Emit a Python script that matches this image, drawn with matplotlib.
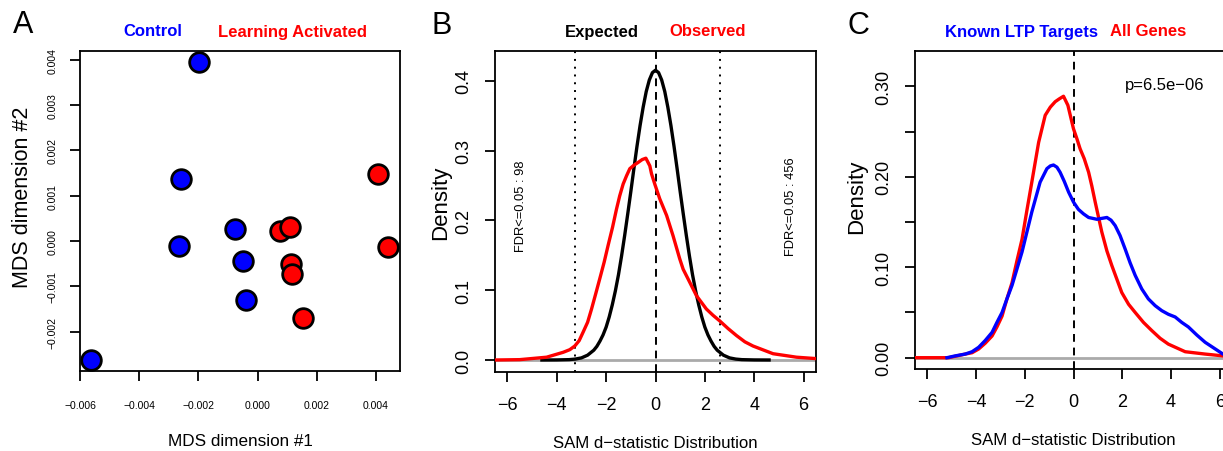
import matplotlib
matplotlib.use("Agg")
import matplotlib.pyplot as plt

plt.rcParams['font.family'] = ['Liberation Sans', 'DejaVu Sans']

# panel A: MDS coordinates
ctrl_x = [-0.00197, -0.00259, -0.00267, -0.00077, -0.00051, -0.00040, -0.00564]
ctrl_y = [0.00395, 0.00137, -0.00011, 0.00027, -0.00044, -0.00130, -0.00262]
learn_x = [0.00406, 0.00442, 0.00075, 0.00111, 0.00112, 0.00116, 0.00154]
learn_y = [0.00147, -0.00013, 0.00022, 0.00030, -0.00050, -0.00074, -0.00169]

# panel B: expected vs observed SAM d-statistic density
exp_x = [-4.6, -4.0, -3.5, -3.25, -3.0, -2.75, -2.5, -2.375, -2.25, -2.125, -2.0,
         -1.875, -1.75, -1.625, -1.5, -1.375, -1.25, -1.125, -1.0, -0.875, -0.75,
         -0.625, -0.5, -0.375, -0.25, -0.125, 0.0, 0.125, 0.25, 0.375, 0.5, 0.625,
         0.75, 0.875, 1.0, 1.125, 1.25, 1.375, 1.5, 1.625, 1.75, 1.875, 2.0, 2.125,
         2.25, 2.375, 2.5, 2.75, 3.0, 3.25, 3.5, 4.0, 4.6]
exp_y = [0.0, 0.0001, 0.0005, 0.0013, 0.003, 0.0069, 0.014, 0.0195, 0.027, 0.0358,
         0.047, 0.0616, 0.079, 0.099, 0.122, 0.1488, 0.178, 0.209, 0.241, 0.274, 0.306,
         0.3357, 0.362, 0.3845, 0.401, 0.4115, 0.415, 0.4115, 0.401, 0.3845, 0.362,
         0.3357, 0.306, 0.274, 0.241, 0.209, 0.178, 0.1488, 0.122, 0.099, 0.079,
         0.0616, 0.047, 0.0358, 0.027, 0.0195, 0.014, 0.0069, 0.003, 0.0013, 0.0005,
         0.0001, 0.0]
obs_x = [-6.5, -5.5, -4.41, -3.74, -3.47, -3.27, -3.09, -2.93, -2.75, -2.59, -2.42,
         -2.26, -2.08, -1.92, -1.74, -1.58, -1.45, -1.31, -1.17, -1.04, -0.87, -0.70,
         -0.54, -0.39, -0.23, -0.16, -0.03, 0.17, 0.31, 0.45, 0.71, 0.98, 1.12, 1.32,
         1.66, 2.06, 2.33, 2.60, 2.94, 3.28, 3.62, 3.95, 4.76, 5.71, 6.5]
obs_y = [0.0, 0.0005, 0.004, 0.011, 0.0148, 0.020, 0.0278, 0.040, 0.054, 0.073, 0.095,
         0.116, 0.140, 0.164, 0.190, 0.216, 0.235, 0.252, 0.264, 0.274, 0.279, 0.283,
         0.287, 0.289, 0.278, 0.2665, 0.252, 0.231, 0.219, 0.207, 0.178, 0.145, 0.130,
         0.116, 0.092, 0.073, 0.064, 0.056, 0.045, 0.035, 0.026, 0.020, 0.009, 0.004,
         0.002]
fdr_lo, fdr_hi = -3.24, 2.63
fdr_lo_label = "FDR<=0.05 : 98"
fdr_hi_label = "FDR<=0.05 : 456"

# panel C: known LTP targets vs all genes
all_x = [-6.49, -5.12, -4.44, -4.16, -3.89, -3.62, -3.34, -3.14, -2.93, -2.73, -2.52,
         -2.32, -2.11, -1.91, -1.71, -1.43, -1.16, -0.95, -0.75, -0.59, -0.41, -0.23,
         0.0, 0.14, 0.27, 0.44, 0.62, 0.75, 0.89, 1.16, 1.37, 1.57, 1.98, 2.26, 2.53,
         2.87, 3.21, 3.55, 3.89, 4.58, 5.40, 6.13, 6.5]
all_y = [0.0, 0.0, 0.004, 0.0055, 0.0096, 0.016, 0.024, 0.034, 0.046, 0.065, 0.083,
         0.107, 0.131, 0.163, 0.194, 0.238, 0.268, 0.277, 0.283, 0.286, 0.289, 0.279,
         0.253, 0.242, 0.231, 0.220, 0.205, 0.190, 0.172, 0.139, 0.118, 0.102, 0.072,
         0.059, 0.050, 0.039, 0.030, 0.0215, 0.015, 0.0066, 0.004, 0.002, 0.002]
ltp_x = [-5.19, -4.85, -4.44, -4.16, -3.89, -3.62, -3.34, -3.14, -2.93, -2.73, -2.52,
         -2.32, -2.11, -1.91, -1.71, -1.37, -1.09, -0.95, -0.82, -0.68, -0.55, -0.38,
         -0.20, 0.0, 0.20, 0.41, 0.62, 0.96, 1.16, 1.37, 1.54, 1.71, 1.91, 2.12, 2.32,
         2.53, 2.80, 3.07, 3.35, 3.62, 3.89, 4.17, 4.44, 4.71, 5.06, 5.40, 6.13, 6.5]
ltp_y = [0.0, 0.002, 0.004, 0.0066, 0.0115, 0.019, 0.028, 0.039, 0.050, 0.065, 0.080,
         0.098, 0.117, 0.139, 0.161, 0.194, 0.209, 0.212, 0.213, 0.2106, 0.205, 0.195,
         0.183, 0.172, 0.164, 0.159, 0.155, 0.153, 0.154, 0.155, 0.152, 0.146, 0.135,
         0.120, 0.105, 0.091, 0.076, 0.065, 0.0575, 0.052, 0.048, 0.045, 0.039, 0.034,
         0.025, 0.017, 0.004, 0.002]
pval_text = "p=6.5e\u221206"

W, H = 1223, 452
fig = plt.figure(figsize=(W / 100, H / 100), dpi=100)


def box(left, top, right, bottom):
    return [left / W, 1 - bottom / H, (right - left) / W, (bottom - top) / H]


def r_style(ax, size, xpad, ypad):
    for s in ax.spines.values():
        s.set_linewidth(1.3)
    ax.tick_params(direction='out', length=7.2, width=1.3, labelsize=size)
    ax.tick_params(axis='x', pad=xpad)
    ax.tick_params(axis='y', pad=ypad)
    for lab in ax.get_yticklabels():
        lab.set_rotation(90)
        lab.set_va('center')


def ftext(x, y, s, **kw):
    fig.text(x / W, 1 - y / H, s, ha='center', va='center', **kw)


# ---- A ----
axA = fig.add_axes(box(80, 52, 400, 372))
axA.scatter(ctrl_x, ctrl_y, s=200, c='#0000ff', edgecolors='black', linewidths=2, zorder=3)
axA.scatter(learn_x, learn_y, s=200, c='#ff0000', edgecolors='black', linewidths=2, zorder=3)
axA.set_xlim(-0.006, 0.00481)
axA.set_ylim(-0.00287, 0.00419)
axA.set_xticks([-0.006, -0.004, -0.002, 0.0, 0.002, 0.004])
axA.set_yticks([-0.002, -0.001, 0.0, 0.001, 0.002, 0.003, 0.004])
axA.set_xticklabels(['\u22120.006', '\u22120.004', '\u22120.002', '0.000', '0.002', '0.004'])
axA.set_yticklabels(['\u22120.002', '\u22120.001', '0.000', '0.001', '0.002', '0.003', '0.004'])
r_style(axA, 7.5, 14, 9)
ftext(240, 442, "MDS dimension #1", fontsize=12.3)
ftext(22, 197, "MDS dimension #2", fontsize=15.5, rotation=90)
ftext(23, 25, "A", fontsize=22)
ftext(153, 32, "Control", fontsize=12, fontweight='bold', color='#0000ff')
ftext(293, 32, "Learning Activated", fontsize=12, fontweight='bold', color='#ff0000')

# ---- B ----
axB = fig.add_axes(box(495, 52, 816, 373))
axB.axhline(0, color='#aaaaaa', lw=2, zorder=1)
axB.plot(exp_x, exp_y, color='black', lw=2.4, zorder=3)
axB.plot(obs_x, obs_y, color='#ff0000', lw=2.4, zorder=4)
axB.axvline(0, color='black', lw=1.4, dashes=(4, 3), zorder=2)
axB.axvline(fdr_lo, color='black', lw=1.4, linestyle=(0, (1, 3)), zorder=2)
axB.axvline(fdr_hi, color='black', lw=1.4, linestyle=(0, (1, 3)), zorder=2)
axB.text(-5.45, 0.221, fdr_lo_label, rotation=90, ha='center', va='center', fontsize=9.3)
axB.text(5.5, 0.221, fdr_hi_label, rotation=90, ha='center', va='center', fontsize=9.3)
axB.set_xlim(-6.5, 6.5)
axB.set_ylim(-0.0172, 0.4425)
axB.set_xticks([-6, -4, -2, 0, 2, 4, 6])
axB.set_yticks([0.0, 0.1, 0.2, 0.3, 0.4])
axB.set_yticklabels(['0.0', '0.1', '0.2', '0.3', '0.4'])
r_style(axB, 13, 10, 9)
ftext(655.7, 444, "SAM d\u2212statistic Distribution", fontsize=12.1)
ftext(441, 203, "Density", fontsize=16, rotation=90)
ftext(442, 26, "B", fontsize=22)
ftext(601.7, 32, "Expected", fontsize=12, fontweight='bold', color='black')
ftext(707.7, 32, "Observed", fontsize=12, fontweight='bold', color='#ff0000')

# ---- C ----
axC = fig.add_axes(box(915, 52.3, 1232, 370))
axC.axhline(0, color='#aaaaaa', lw=2, zorder=1)
axC.plot(all_x, all_y, color='#ff0000', lw=2.4, zorder=3)
axC.plot(ltp_x, ltp_y, color='#0000ff', lw=2.4, zorder=4)
axC.axvline(0, color='black', lw=1.4, dashes=(4, 3), zorder=2)
axC.text(3.75, 0.302, pval_text, ha='center', va='center', fontsize=12)
axC.set_xlim(-6.5, 6.5)
axC.set_ylim(-0.0125, 0.3387)
axC.set_xticks([-6, -4, -2, 0, 2, 4, 6])
axC.set_yticks([0.0, 0.05, 0.10, 0.15, 0.20, 0.25, 0.30])
axC.set_yticklabels(['0.00', '', '0.10', '', '0.20', '', '0.30'])
r_style(axC, 13, 10, 9)
ftext(1073, 441, "SAM d\u2212statistic Distribution", fontsize=12.1)
ftext(857, 197, "Density", fontsize=16, rotation=90)
ftext(858, 26, "C", fontsize=22)
ftext(1021.7, 32, "Known LTP Targets", fontsize=12, fontweight='bold', color='#0000ff')
ftext(1148.3, 32, "All Genes", fontsize=12, fontweight='bold', color='#ff0000')

fig.savefig("out.png", dpi=100)
